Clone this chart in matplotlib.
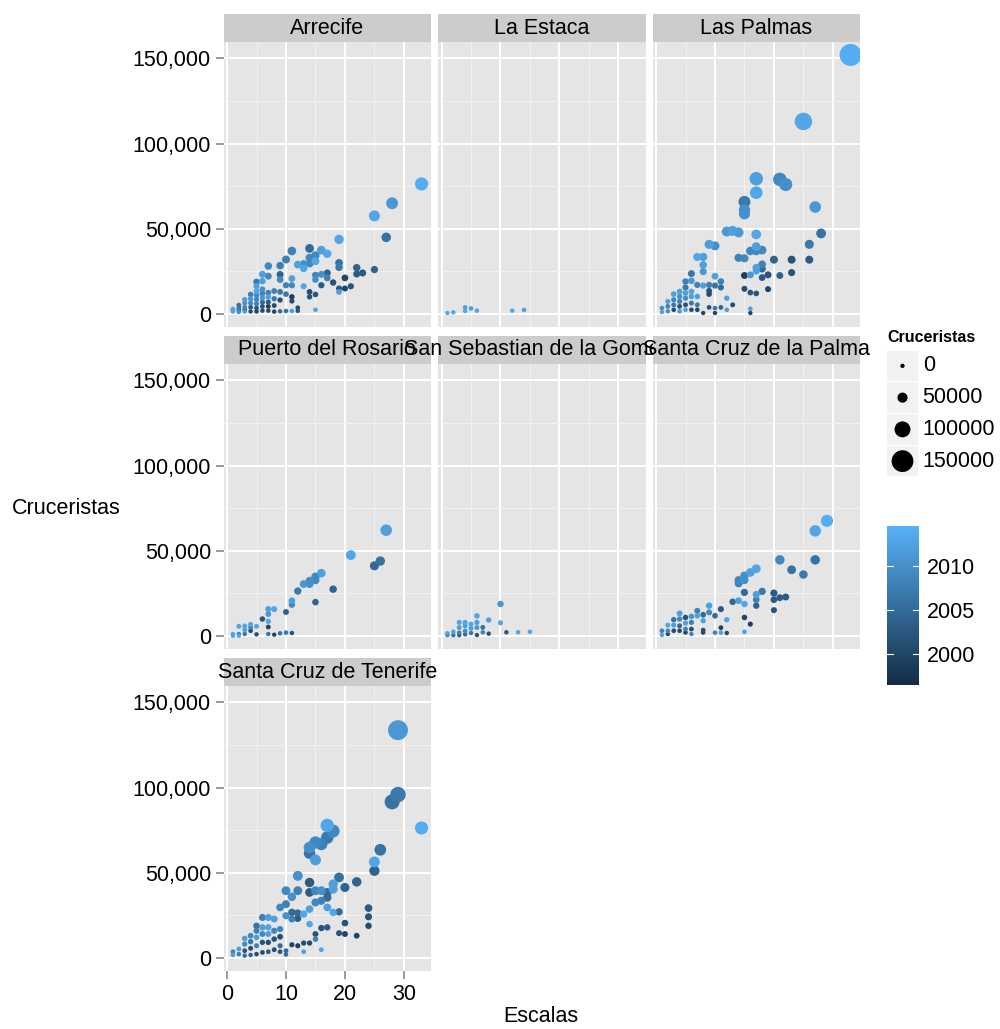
import matplotlib
matplotlib.use("Agg")
import numpy as np
import matplotlib.pyplot as plt
from matplotlib.colors import LinearSegmentedColormap, Normalize
from matplotlib.patches import Rectangle
from matplotlib.ticker import FuncFormatter, MultipleLocator
from matplotlib.cm import ScalarMappable

plt.rcParams['font.family'] = ['Liberation Sans', 'DejaVu Sans']

# datos por puerto: escalas, cruceristas, año
arrecife_esc = [33, 28, 25, 27, 19, 14, 11, 16, 17, 14,
                15, 10, 12, 13, 14, 15, 13, 7, 9, 19,
                19, 6, 7, 9, 11, 15, 16, 17, 15, 17,
                22, 22, 23, 25, 20, 18, 16, 20, 21, 19,
                19, 5, 6, 9, 11, 10, 13, 5, 14, 15,
                14, 11, 11, 9, 12, 12, 15, 11, 10, 9,
                8, 9, 10, 1, 1, 1, 2, 2, 2, 2,
                3, 3, 3, 3, 3, 4, 4, 4, 4, 4,
                5, 5, 5, 5, 5, 5, 6, 6, 6, 6,
                6, 6, 7, 7, 7, 7, 7, 8, 8, 8]
arrecife_cru = [76300, 65000, 57600, 45000, 43800, 38500, 37000, 37500, 35400, 33000,
                34400, 32000, 29000, 29400, 29600, 31000, 26700, 28200, 28400, 30000,
                27400, 23300, 22200, 23200, 20800, 22800, 23300, 24100, 20200, 21200,
                27200, 23500, 24100, 26100, 21200, 18500, 16900, 15000, 16300, 15000,
                13000, 18900, 19300, 20200, 16900, 16900, 16300, 16500, 13000, 11500,
                10100, 10100, 7600, 8200, 3700, 1900, 2500, 1800, 1800, 1600,
                1400, 13000, 11700, 1500, 3000, 2500, 1200, 3500, 5200, 2200,
                1500, 4000, 6500, 8500, 2500, 1500, 4000, 6500, 9000, 11500,
                1500, 3500, 6000, 8500, 11000, 13500, 2000, 4500, 7000, 9500,
                12000, 14500, 2000, 4500, 7000, 10000, 12500, 5000, 9000, 13500]
arrecife_year = [2014, 2011, 2013, 2006, 2013, 2005, 2008, 2012, 2013, 2009,
                 2009, 2008, 2012, 2010, 2009, 2013, 2013, 2009, 2008, 2006,
                 2007, 2012, 2009, 2004, 2012, 2009, 2010, 2004, 2010, 2008,
                 2004, 2003, 2003, 2004, 2000, 2002, 2003, 2000, 2002, 2002,
                 2012, 2007, 2012, 2009, 2009, 2008, 2013, 2012, 2001, 2002,
                 2002, 1999, 2001, 2001, 2001, 2002, 2013, 2012, 2006, 2005,
                 2000, 2007, 2007, 2012, 2013, 2005, 2010, 2007, 2006, 2000,
                 2012, 2009, 2010, 2012, 1999, 2001, 2003, 2009, 2011, 2008,
                 2000, 2002, 2008, 2009, 2009, 2013, 2001, 2002, 2005, 2011,
                 2008, 2010, 2001, 1999, 2003, 2012, 2008, 2001, 2007, 2008]

estaca_esc = [1, 2, 4, 4, 5, 6, 12, 14]
estaca_cru = [600, 1000, 3900, 1800, 3300, 2000, 2000, 2400]
estaca_year = [2013, 2013, 2012, 2013, 2012, 2013, 2013, 2012]

palmas_esc = [33, 25, 17, 17, 21, 22, 15, 15, 15, 27,
              28, 26, 26, 23, 23, 20, 21, 19, 19, 12,
              13, 14, 17, 17, 16, 18, 17, 14, 15, 18,
              18, 17, 17, 16, 18, 15, 15, 16, 17, 9,
              10, 7, 8, 8, 8, 6, 6, 7, 8, 9,
              10, 10, 11, 11, 9, 9, 12, 12, 13, 11,
              10, 9, 10, 8, 16, 16, 1, 1, 2, 2,
              2, 3, 3, 3, 3, 4, 4, 4, 4, 4,
              5, 5, 5, 5, 5, 5, 6, 6, 6, 6,
              7, 7, 7]
palmas_cru = [152000, 113000, 79400, 71200, 79000, 76000, 65800, 61000, 58800, 62800,
              47300, 40900, 31900, 31900, 24300, 31900, 22600, 23000, 14600, 48400,
              48800, 47900, 46700, 39500, 37000, 37500, 37000, 33000, 32700, 29200,
              26500, 27200, 25300, 23000, 21400, 22600, 14800, 12600, 12100, 40900,
              40000, 33500, 33500, 28800, 24900, 23700, 19500, 17100, 16700, 17100,
              22200, 16700, 19100, 15600, 13600, 11700, 9300, 2500, 5400, 3900,
              3500, 3900, 600, 600, 3100, 600, 3500, 1200, 7400, 4500,
              1600, 11700, 8400, 5400, 2500, 13200, 10300, 7400, 4500, 1600,
              19100, 15600, 12300, 9300, 5400, 2500, 13200, 10300, 6400, 2500,
              10300, 5400, 2500]
palmas_year = [2014, 2013, 2012, 2013, 2009, 2010, 2007, 2010, 2010, 2011,
               2006, 2007, 2003, 2002, 2002, 2004, 2004, 2002, 2000, 2011,
               2012, 2011, 2013, 2012, 2009, 2009, 2009, 2008, 2009, 2008,
               2005, 2012, 2012, 2011, 2003, 1999, 2001, 2002, 2002, 2012,
               2010, 2013, 2012, 2012, 2011, 2007, 2011, 2008, 2012, 2008,
               2012, 2006, 2008, 2005, 2002, 2001, 2012, 2012, 2001, 2004,
               2007, 2002, 2000, 2000, 2012, 2000, 2010, 2012, 2012, 2008,
               2010, 2012, 2009, 2007, 2001, 2012, 2010, 2008, 2002, 2011,
               2008, 2007, 2012, 2010, 2002, 2012, 2013, 2012, 2007, 2001,
               2012, 2007, 2000]

rosario_esc = [27, 21, 26, 25, 16, 15, 15, 14, 14, 13,
               12, 18, 15, 11, 11, 10, 7, 8, 7, 6,
               7, 7, 4, 4, 5, 4, 3, 3, 3, 2,
               2, 2, 1, 1, 5, 7, 8, 9, 10, 11]
rosario_cru = [62100, 47500, 44000, 41200, 36900, 34800, 32800, 32400, 30500, 30500,
               26400, 27500, 19900, 20700, 18400, 14100, 15800, 15800, 12900, 10000,
               8600, 5300, 6800, 5100, 5700, 3100, 5900, 3700, 1200, 5700,
               1200, 200, 1200, 200, 1000, 1200, 800, 1600, 2000, 1800]
rosario_year = [2012, 2013, 2006, 2005, 2012, 2009, 2009, 2010, 2010, 2011,
                2007, 2004, 2004, 2012, 2009, 2004, 2012, 2013, 2011, 2002,
                2013, 2000, 2013, 2008, 2013, 2001, 2013, 2012, 2007, 2013,
                2008, 2013, 2013, 2012, 2001, 2006, 2000, 2006, 2007, 2002]

gomera_esc = [10, 10, 6, 8, 7, 7, 8, 6, 11, 13,
              15, 1, 1, 2, 2, 3, 3, 3, 3, 4,
              4, 4, 4, 5, 5, 5, 6, 6]
gomera_cru = [18800, 7800, 11800, 9400, 5100, 2200, 1400, 600, 2200, 2200,
              2500, 1600, 600, 2500, 500, 8000, 5000, 2000, 500, 8000,
              6000, 3000, 1000, 7000, 4500, 1800, 8000, 5000]
gomera_year = [2011, 2013, 2013, 2012, 2006, 2008, 2002, 2002, 2003, 2013,
               2013, 2012, 2007, 2012, 2006, 2013, 2012, 2008, 2003, 2013,
               2012, 2010, 2005, 2013, 2012, 2007, 2012, 2011]

lapalma_esc = [29, 27, 27, 21, 23, 25, 17, 16, 15, 15,
               14, 14, 18, 17, 17, 17, 15, 20, 20, 21,
               22, 20, 13, 14, 15, 11, 10, 12, 15, 16,
               11, 11, 10, 12, 15, 9, 9, 7, 7, 8,
               8, 8, 8, 6, 6, 6, 6, 5, 5, 5,
               5, 4, 4, 4, 4, 3, 3, 3, 2, 2,
               2, 1, 1]
lapalma_cru = [67600, 61700, 44700, 44700, 38900, 36100, 39500, 37300, 35400, 32800,
               32800, 30900, 26200, 24400, 21300, 17800, 25600, 25200, 21300, 22500,
               22900, 15200, 20100, 20700, 18800, 15800, 11900, 9600, 10900, 7000,
               4900, 2000, 2000, 1800, 2500, 17800, 13900, 14800, 11900, 12500,
               9000, 3500, 2100, 11500, 8000, 4100, 1200, 10900, 7600, 4100,
               2100, 13300, 10000, 6000, 3100, 9600, 6400, 3100, 6400, 3100,
               1200, 3100, 600]
lapalma_year = [2014, 2013, 2006, 2009, 2006, 2007, 2013, 2012, 2010, 2010,
                2009, 2008, 2007, 2012, 2008, 2004, 2005, 2003, 2003, 2003,
                2003, 2002, 2005, 2012, 2013, 2003, 2005, 2013, 2000, 1999,
                2000, 2012, 2008, 2001, 2012, 2012, 2009, 2008, 2012, 2005,
                2012, 2001, 2000, 2011, 2008, 2001, 2008, 2002, 2012, 2008,
                2000, 2012, 2009, 2005, 2001, 2006, 2012, 2001, 2013, 2009,
                2001, 2008, 2012]

tenerife_esc = [29, 29, 28, 33, 17, 18, 17, 15, 14, 16,
                14, 15, 26, 25, 25, 12, 19, 22, 20, 18,
                18, 14, 14, 10, 11, 12, 15, 16, 17, 17,
                15, 16, 17, 14, 13, 18, 19, 9, 10, 11,
                12, 12, 10, 11, 14, 17, 20, 19, 20, 22,
                24, 24, 24, 16, 15, 15, 14, 13, 12, 11,
                16, 13, 9, 9, 10, 10, 1, 1, 2, 2,
                3, 3, 3, 3, 4, 4, 4, 4, 5, 5,
                5, 5, 5, 6, 6, 6, 6, 6, 7, 7,
                7, 7, 7, 8, 8, 8, 8, 9, 9]
tenerife_cru = [133700, 95900, 91600, 76300, 77800, 74500, 70700, 67800, 64800, 66800,
                61500, 57600, 63500, 56400, 51200, 48200, 47300, 44700, 41400, 43400,
                40400, 44300, 38500, 39500, 35900, 39500, 39500, 39500, 38500, 35500,
                32600, 33600, 29700, 28700, 25800, 26800, 27100, 29700, 31600, 26800,
                26400, 23200, 24800, 22900, 19900, 18000, 20500, 14600, 14100, 13100,
                29300, 24200, 18900, 17600, 14100, 11100, 8800, 8800, 7200, 7800,
                4900, 3700, 7200, 3700, 4300, 2100, 1800, 3700, 5300, 2300,
                11500, 8200, 4300, 1400, 13100, 9600, 5700, 1800, 18900, 16000,
                12100, 7200, 2300, 23800, 18000, 14100, 9200, 3300, 23800, 18000,
                14100, 9200, 3700, 22900, 16000, 11100, 4900, 17000, 12500]
tenerife_year = [2011, 2007, 2006, 2014, 2013, 2009, 2007, 2009, 2010, 2008,
                 2006, 2012, 2006, 2013, 2004, 2010, 2006, 2004, 2004, 2012,
                 2012, 2003, 2003, 2009, 2010, 2008, 2009, 2010, 2005, 2005,
                 2009, 2008, 2012, 2012, 2013, 2013, 2005, 2009, 2008, 2005,
                 2005, 2003, 2010, 2008, 2013, 2003, 2002, 2002, 2000, 2000,
                 2003, 2002, 2001, 2002, 2002, 2008, 2001, 2001, 1999, 2000,
                 2013, 2012, 2005, 2002, 2005, 2005, 2012, 2008, 2012, 2008,
                 2012, 2009, 2002, 2005, 2009, 2007, 2001, 2004, 2006, 2008,
                 2012, 2008, 2001, 2008, 2012, 2009, 2002, 2001, 2012, 2013,
                 2012, 2001, 2003, 2012, 2009, 2002, 2001, 2009, 2001]

puertos = ["Arrecife", "La Estaca", "Las Palmas", "Puerto del Rosario",
           "San Sebastian de la Gomera", "Santa Cruz de la Palma",
           "Santa Cruz de Tenerife"]
datos = [(arrecife_esc, arrecife_cru, arrecife_year),
         (estaca_esc, estaca_cru, estaca_year),
         (palmas_esc, palmas_cru, palmas_year),
         (rosario_esc, rosario_cru, rosario_year),
         (gomera_esc, gomera_cru, gomera_year),
         (lapalma_esc, lapalma_cru, lapalma_year),
         (tenerife_esc, tenerife_cru, tenerife_year)]
size_breaks = [0, 50000, 100000, 150000]
year_ticks = [2000, 2005, 2010]

W, H = 1000, 1029
FS = 15.5
fig = plt.figure(figsize=(W / 100, H / 100), dpi=100)


def px(x0, y0, x1, y1):
    return [x0 / W, 1 - y1 / H, (x1 - x0) / W, (y1 - y0) / H]


cmap = LinearSegmentedColormap.from_list("gg", ["#132B43", "#56B1F7"])
norm = Normalize(1996.5, 2014.5)

all_cru = np.concatenate([np.array(d[1]) for d in datos])
cmin, cmax = all_cru.min(), all_cru.max()


def dot_area(v):
    # diametro en pixeles, lineal con el valor (como scale_size antiguo)
    d = 4.3 + 17.7 * (np.asarray(v) - cmin) / (cmax - cmin)
    return (np.maximum(d, 3.6) * 0.72) ** 2


col_x = [223.5, 438.0, 652.5]
pw = 207.5
row_y = [42.0, 364.0, 686.0]
ph = 285.0
sh = 28.0
fmt = FuncFormatter(lambda v, p: f"{int(v):,}")

for i, (name, (esc, cru, yr)) in enumerate(zip(puertos, datos)):
    r, c = divmod(i, 3)
    x0, y0 = col_x[c], row_y[r]
    ax = fig.add_axes(px(x0, y0, x0 + pw, y0 + ph))
    ax.set_facecolor("#E5E5E5")
    for s in ax.spines.values():
        s.set_visible(False)
    ax.set_xlim(-0.6, 34.6)
    ax.set_ylim(-7600, 159600)
    ax.xaxis.set_major_locator(MultipleLocator(10))
    ax.xaxis.set_minor_locator(MultipleLocator(5))
    ax.yaxis.set_major_locator(MultipleLocator(50000))
    ax.yaxis.set_minor_locator(MultipleLocator(25000))
    ax.yaxis.set_major_formatter(fmt)
    ax.grid(which="major", color="white", lw=1.4)
    ax.grid(which="minor", color="#F2F2F2", lw=0.7)
    ax.set_axisbelow(True)
    ax.tick_params(which="minor", length=0)
    ax.tick_params(which="major", length=6, width=1.1, color="#7F7F7F",
                   labelsize=FS, pad=3)
    if c != 0:
        ax.tick_params(axis="y", length=0, labelleft=False)
    if i != 6:
        ax.tick_params(axis="x", length=0, labelbottom=False)

    order = np.argsort(yr, kind="stable")
    e = np.array(esc)[order]
    v = np.array(cru)[order]
    y = np.array(yr)[order]
    ax.scatter(e, v, s=dot_area(v), c=y, cmap=cmap, norm=norm,
               edgecolors="none", zorder=3)

    # franja con el nombre del puerto
    fig.add_artist(Rectangle((x0 / W, 1 - y0 / H), pw / W, sh / H,
                             transform=fig.transFigure, fc="#CCCCCC",
                             ec="none", zorder=2 * i + 1))
    fig.text((x0 + pw / 2) / W, 1 - (y0 - sh / 2) / H, name, ha="center",
             va="center", fontsize=FS, zorder=2 * i + 2)

fig.text(12 / W, 1 - 508 / H, "Cruceristas", ha="left", va="center", fontsize=FS)
fig.text(541 / W, 1 - 1016 / H, "Escalas", ha="center", va="center", fontsize=FS)

# leyenda de tamaño
fig.text(887 / W, 1 - 338 / H, "Cruceristas", ha="left", va="center",
         fontsize=11.5, fontweight="bold")
lax = fig.add_axes(px(887, 350, 918, 477))
lax.set_xlim(0, 1)
lax.set_ylim(4, 0)
lax.axis("off")
for k, b in enumerate(size_breaks):
    lax.add_patch(Rectangle((0, k + 0.02), 1, 0.96, fc="#F2F2F2", ec="none"))
    lax.scatter([0.5], [k + 0.5], s=dot_area(b), color="black",
                edgecolors="none", clip_on=False)
    lax.text(1.15, k + 0.5, str(b), ha="left", va="center", fontsize=FS,
             clip_on=False)

# barra de color
cax = fig.add_axes(px(887, 526, 919, 685))
cb = fig.colorbar(ScalarMappable(norm=norm, cmap=cmap), cax=cax)
cb.outline.set_visible(False)
cb.set_ticks(year_ticks)
cax.tick_params(length=0, labelsize=FS, pad=6)
for t in year_ticks:
    cax.axhline(t, xmin=0, xmax=0.2, color="white", lw=0.8)
    cax.axhline(t, xmin=0.8, xmax=1, color="white", lw=0.8)

fig.savefig("out.png", dpi=100)
